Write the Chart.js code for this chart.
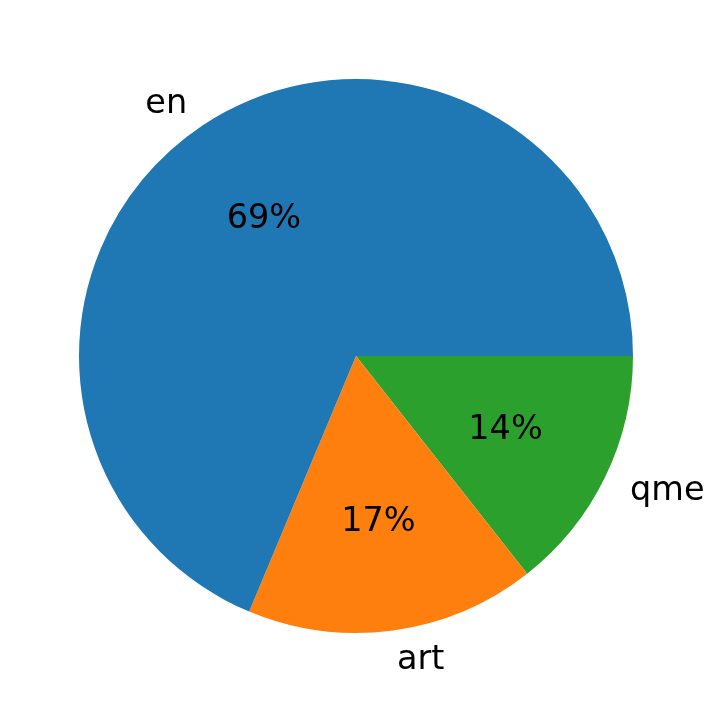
<!DOCTYPE html>
<html>
<head>
<meta charset="utf-8">
<script src="https://cdn.jsdelivr.net/npm/chart.js@4"></script>
<style>
  html, body { margin: 0; padding: 0; background: #fff; }
  #wrap { width: 717px; height: 713px; }
</style>
</head>
<body>
<div id="wrap"><canvas id="pie" width="717" height="713"></canvas></div>
<script>
// matplotlib draws counter-clockwise from 3 o'clock: en, art, qme
const labels = ['en', 'art', 'qme'];
const shares = [68.7, 16.9, 14.4];
const colors = ['#1f77b4', '#ff7f0e', '#2ca02c'];

// Chart.js goes clockwise, so feed it reversed
const revLabels = labels.slice().reverse();
const revShares = shares.slice().reverse();
const revColors = colors.slice().reverse();

const FONT = '33.5px "DejaVu Sans"';

const pieText = {
  id: 'pieText',
  afterDatasetsDraw(chart) {
    const ctx = chart.ctx;
    const meta = chart.getDatasetMeta(0);
    const total = revShares.reduce((a, b) => a + b, 0);
    ctx.save();
    ctx.font = FONT;
    ctx.fillStyle = '#000';
    ctx.textBaseline = 'middle';
    meta.data.forEach((arc, i) => {
      const mid = (arc.startAngle + arc.endAngle) / 2;
      const r = arc.outerRadius;
      const cx = arc.x, cy = arc.y + 2;
      const pct = Math.round(revShares[i] / total * 100) + '%';
      // percent at 0.6 r
      ctx.textAlign = 'center';
      ctx.fillText(pct, cx + Math.cos(mid) * r * 0.6, cy + Math.sin(mid) * r * 0.6);
      // label at 1.1 r
      const lx = cx + Math.cos(mid) * r * 1.1;
      const ly = cy + Math.sin(mid) * r * 1.1;
      ctx.textAlign = Math.cos(mid) >= 0 ? 'left' : 'right';
      ctx.fillText(revLabels[i], lx, ly);
    });
    ctx.restore();
  }
};

new Chart(document.getElementById('pie'), {
  type: 'pie',
  data: {
    labels: revLabels,
    datasets: [{
      data: revShares,
      backgroundColor: revColors,
      borderWidth: 0
    }]
  },
  options: {
    responsive: false,
    animation: false,
    rotation: 90,
    layout: { padding: { left: 79, right: 84, top: 79, bottom: 80 } },
    plugins: {
      legend: { display: false },
      tooltip: { enabled: false }
    }
  },
  plugins: [pieText]
});
</script>
</body>
</html>
